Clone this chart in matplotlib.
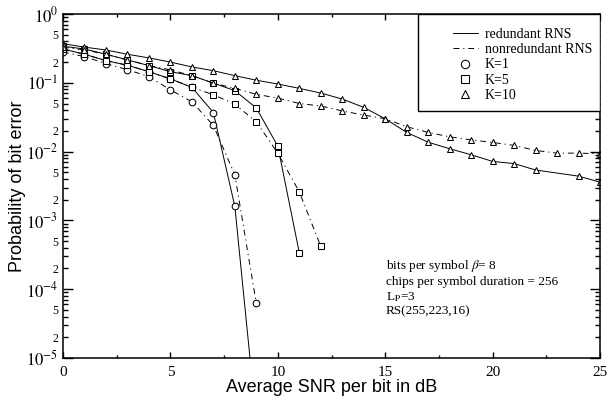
import numpy as np
import matplotlib
matplotlib.use('Agg')
import matplotlib.pyplot as plt
from matplotlib.lines import Line2D
from matplotlib.patches import Rectangle
from matplotlib.ticker import LogLocator, FuncFormatter, MultipleLocator, NullFormatter

plt.rcParams['mathtext.fontset'] = 'stix'

# BER curves (SNR in dB)
k1_red_x = [0, 1, 2, 3, 4, 5, 6, 7, 8, 9]
k1_red = [0.31, 0.26, 0.21, 0.18, 0.145, 0.114, 0.086, 0.037, 0.0016, 1.2e-6]
k1_non_x = [0, 1, 2, 3, 4, 5, 6, 7, 8, 9]
k1_non = [0.28, 0.24, 0.19, 0.155, 0.123, 0.079, 0.053, 0.024, 0.0046, 6.2e-5]

k5_red_x = [0, 1, 2, 3, 4, 5, 6, 7, 8, 9, 10, 11]
k5_red = [0.34, 0.31, 0.26, 0.215, 0.178, 0.145, 0.127, 0.099, 0.077, 0.043, 0.012, 3.4e-4]
k5_non_x = [0, 1, 2, 3, 4, 5, 6, 7, 8, 9, 10, 11, 12]
k5_non = [0.31, 0.26, 0.21, 0.18, 0.145, 0.114, 0.086, 0.067, 0.049, 0.027, 0.0095, 0.0026, 4.2e-4]

k10_red_x = list(range(0, 23)) + [24, 25]
k10_red = [0.37, 0.33, 0.30, 0.26, 0.23, 0.20, 0.17, 0.15, 0.127, 0.109, 0.096, 0.083,
           0.071, 0.058, 0.044, 0.030, 0.019, 0.0137, 0.011, 0.0090, 0.0072, 0.0067,
           0.0054, 0.0044, 0.0036]
k10_non_x = list(range(0, 26))
k10_non = [0.33, 0.30, 0.26, 0.215, 0.178, 0.154, 0.127, 0.099, 0.083, 0.068, 0.060, 0.050,
           0.046, 0.039, 0.034, 0.030, 0.023, 0.019, 0.0164, 0.0148, 0.0136, 0.0123,
           0.0104, 0.0095, 0.0095, 0.0093]

serif = 'Liberation Serif'
sans = 'Liberation Sans'
dashdot = (0, (6, 4, 1.2, 4))
mk = dict(markerfacecolor='white', markeredgecolor='k', markeredgewidth=0.75)
lw = 0.7
ms = 4.8

fig = plt.figure(figsize=(6.08, 4.0), dpi=100)
ax = fig.add_axes([63 / 608, 1 - 358 / 400, 537 / 608, 344 / 400])

# circles first, then squares, triangles on top
ax.plot(k1_red_x, k1_red, color='k', lw=lw, ls='-', marker='o', ms=ms, **mk)
ax.plot(k1_non_x, k1_non, color='k', lw=lw, ls=dashdot, marker='o', ms=ms, **mk)
ax.plot(k5_red_x, k5_red, color='k', lw=lw, ls='-', marker='s', ms=ms, **mk)
ax.plot(k5_non_x, k5_non, color='k', lw=lw, ls=dashdot, marker='s', ms=ms, **mk)
ax.plot(k10_red_x, k10_red, color='k', lw=lw, ls='-', marker='^', ms=ms, **mk)
ax.plot(k10_non_x, k10_non, color='k', lw=lw, ls=dashdot, marker='^', ms=ms, **mk)

ax.set_yscale('log')
ax.set_xlim(0, 25)
ax.set_ylim(1e-5, 1)

ax.xaxis.set_major_locator(MultipleLocator(5))
ax.xaxis.set_minor_locator(MultipleLocator(2.5))
ax.yaxis.set_major_locator(LogLocator(base=10, numticks=10))
ax.yaxis.set_minor_locator(LogLocator(base=10, subs=np.arange(2, 10), numticks=10))


def major_fmt(v, pos):
    return r'$10^{%d}$' % int(round(np.log10(v)))


def minor_fmt(v, pos):
    m = v / 10 ** np.floor(np.log10(v) + 1e-9)
    m = int(round(m))
    return str(m) if m in (2, 5) else ''


ax.yaxis.set_major_formatter(FuncFormatter(major_fmt))
ax.yaxis.set_minor_formatter(FuncFormatter(minor_fmt))
ax.xaxis.set_minor_formatter(NullFormatter())

ax.tick_params(axis='both', which='both', direction='in', top=True, right=True, width=1)
ax.tick_params(axis='y', which='major', length=7, labelsize=12)
ax.tick_params(axis='y', which='minor', length=3.5, labelsize=8.5)
ax.tick_params(axis='x', which='major', length=4, labelsize=11, pad=6)
ax.tick_params(axis='x', which='minor', length=2.5)
for lab in ax.get_xticklabels() + ax.get_yticklabels() + ax.get_yticklabels(minor=True):
    lab.set_family(serif)
for s in ax.spines.values():
    s.set_linewidth(1.1)

ax.set_xlabel('Average SNR per bit in dB', family=sans, fontsize=13, labelpad=0)
ax.set_ylabel('Probability of bit error', family=sans, fontsize=13, labelpad=0)

# legend box
ax.add_patch(Rectangle((0.661, 0.718), 0.339, 0.282, transform=ax.transAxes,
                       facecolor='white', edgecolor='k', lw=1, zorder=5))
handles = [
    Line2D([], [], color='k', lw=lw, ls='-', label='redundant RNS'),
    Line2D([], [], color='k', lw=lw, ls=dashdot, label='nonredundant RNS'),
    Line2D([], [], color='k', ls='none', marker='o', ms=6, label='K=1', **mk),
    Line2D([], [], color='k', ls='none', marker='s', ms=6, label='K=5', **mk),
    Line2D([], [], color='k', ls='none', marker='^', ms=6, label='K=10', **mk),
]
leg = ax.legend(handles=handles, loc='upper left', bbox_to_anchor=(0.726, 0.96),
                frameon=False, borderpad=0, borderaxespad=0, handlelength=1.8,
                handletextpad=0.5, labelspacing=0.17,
                prop={'family': serif, 'size': 10})
leg.set_zorder(6)

ax.text(0.601, 0.29,
        'bits per symbol $\\beta$= 8\nchips per symbol duration = 256\nL$_{\\rm P}$=3\nRS(255,223,16)',
        transform=ax.transAxes, family=serif, fontsize=9.5, va='top', ha='left',
        linespacing=1.2)

fig.savefig('out.png', dpi=100)
